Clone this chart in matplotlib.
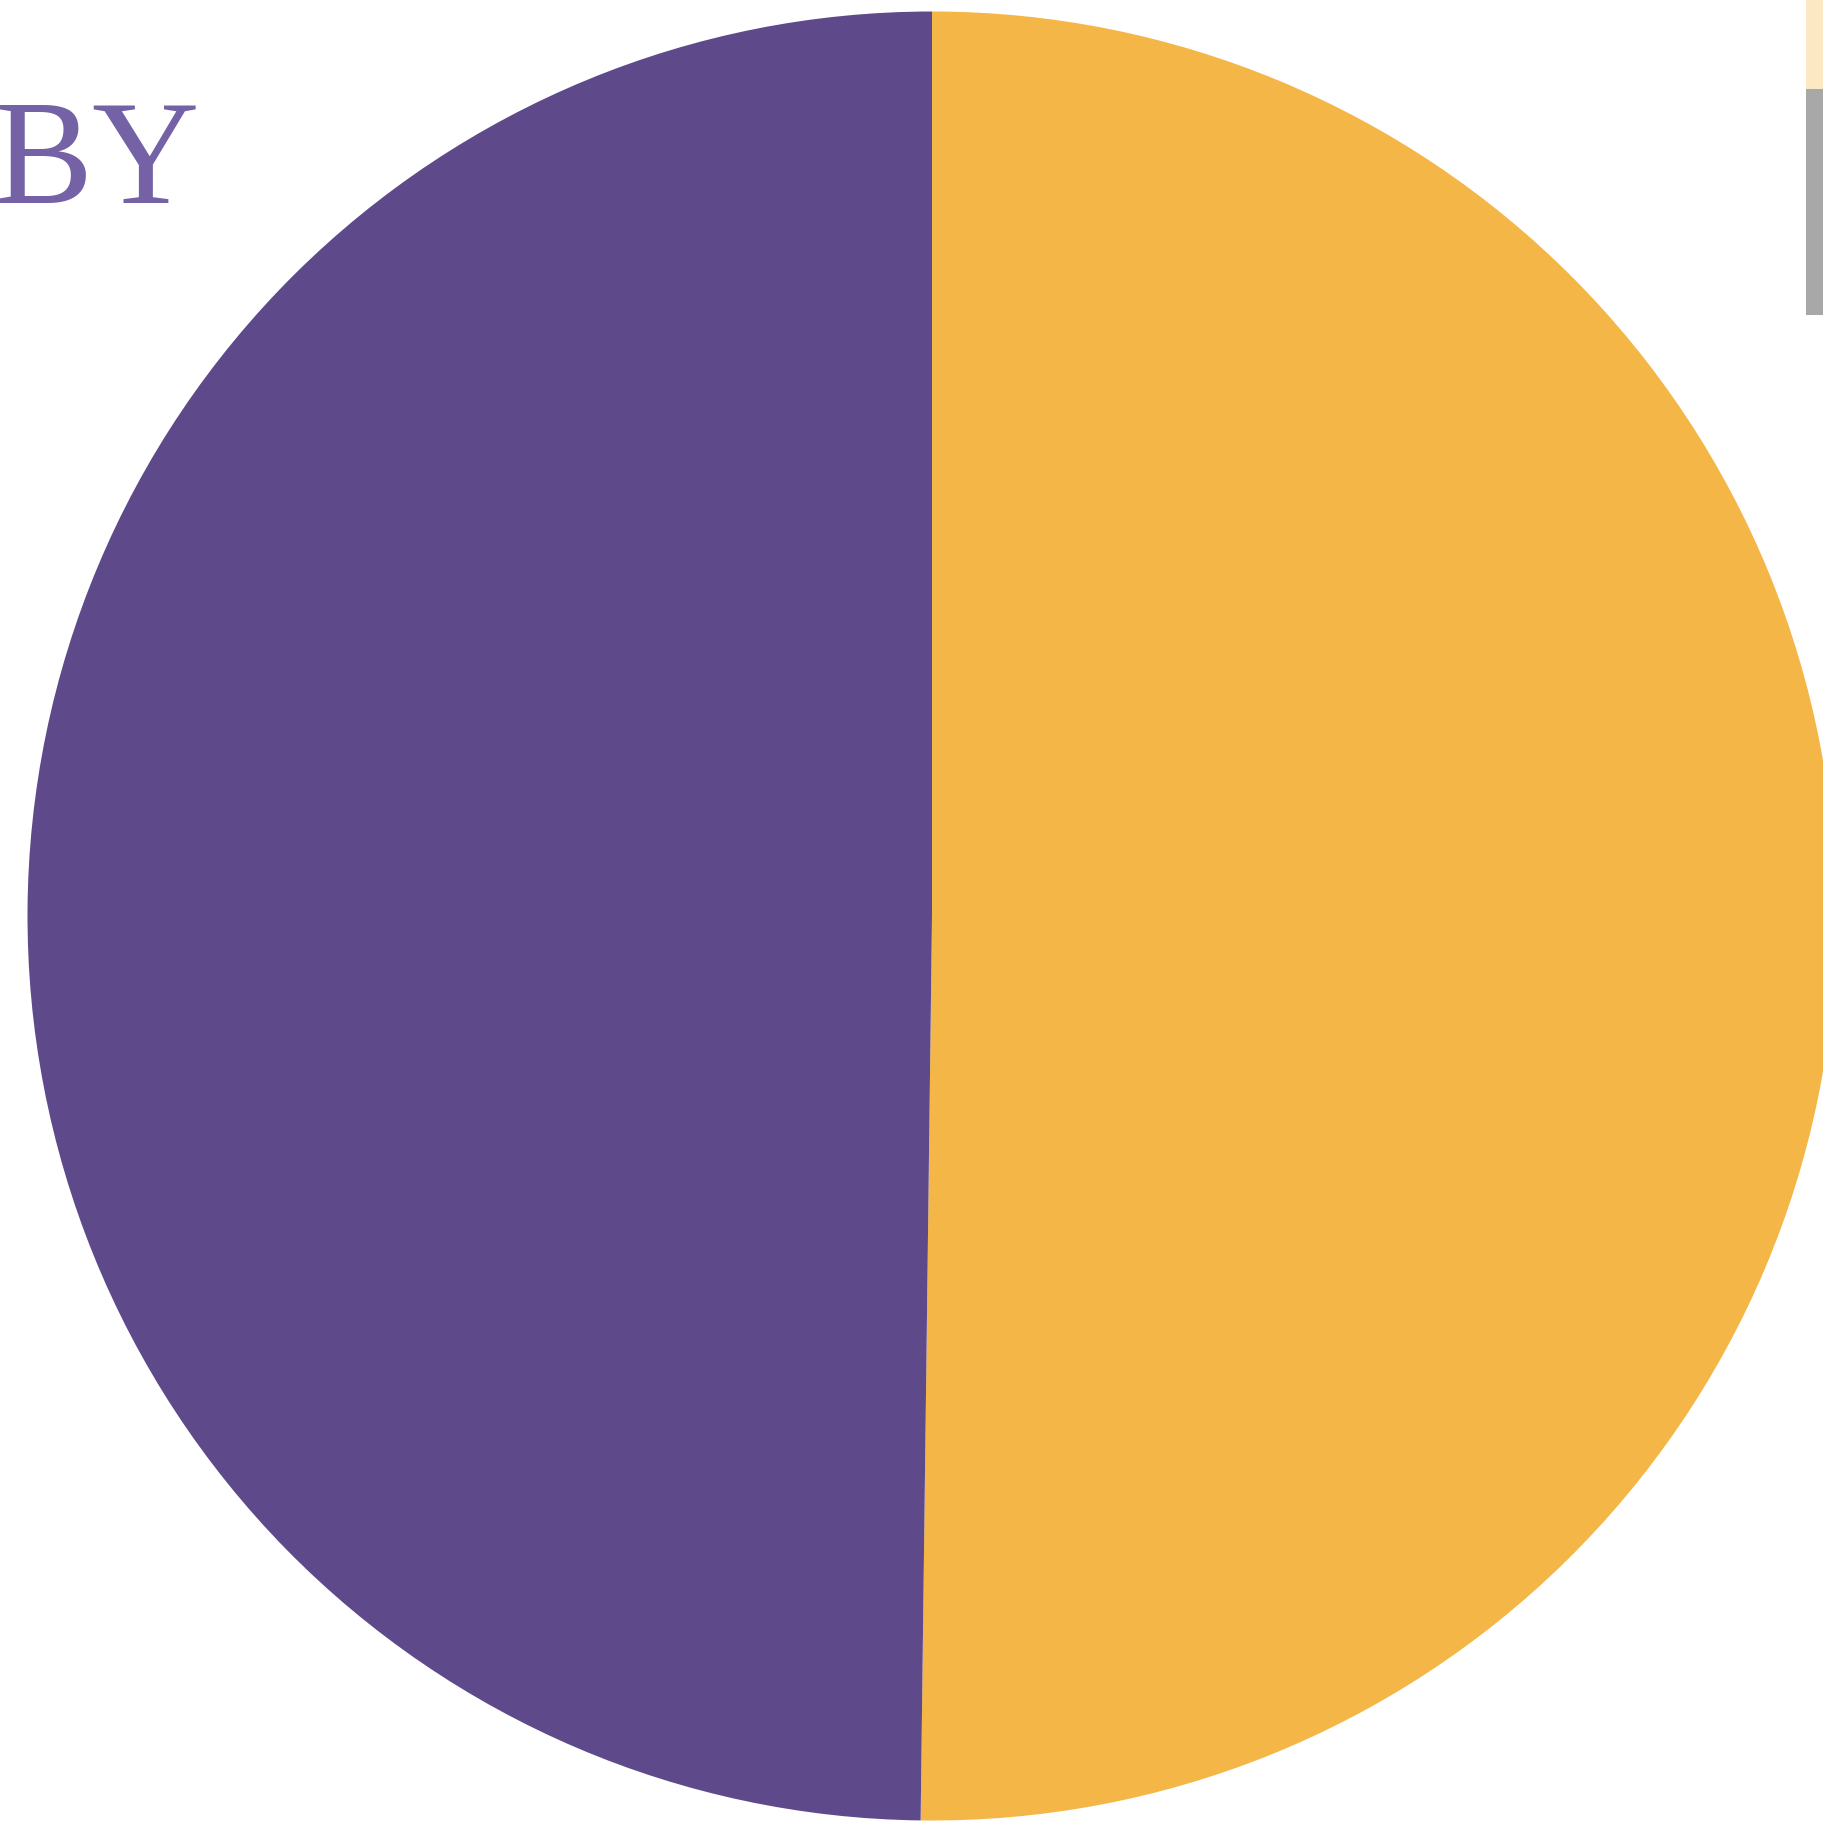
import matplotlib
matplotlib.use("Agg")
import matplotlib.pyplot as plt

# Data
categories = ["Group A", "Group B", "Group C", "Group D"]
values = [50.2, 49.8, 0.0, 0.0]
colors = ["#F4B647", "#5E4A8B", "#FDE8C4", "#A8A8A8"]
title_text = "BY"

W, H = 1824, 1827
fig = plt.figure(figsize=(W / 100, H / 100), dpi=100)

# pie geometry in pixels (from top-left)
cx, cy, r = 932, 916, 904.5
ax = fig.add_axes([(cx - r) / W, (H - cy - r) / H, 2 * r / W, 2 * r / H])
wedges, _ = ax.pie(values, colors=colors, startangle=90, counterclock=False,
                   radius=1, wedgeprops=dict(edgecolor="none", linewidth=0))
ax.set_xlim(-1, 1)
ax.set_ylim(-1, 1)
ax.set_aspect("equal")
ax.axis("off")

fs = 40
hh = 5.88
descent = 0.35 * fs * (hh - 0.7)
leg = fig.legend(wedges, categories, loc="lower left",
                 bbox_to_anchor=(1806 / W, (H - 315) / H),
                 frameon=False, fontsize=fs, borderpad=0, borderaxespad=0,
                 handleheight=hh, handlelength=2.0,
                 labelspacing=(2 * 0.72 - descent) / fs)

fig.text(-6 / W, (H - 203) / H, title_text, fontsize=107,
         family=["Liberation Serif", "DejaVu Serif"],
         color="#7562A6", ha="left", va="baseline")

fig.savefig("out.png", dpi=100)
